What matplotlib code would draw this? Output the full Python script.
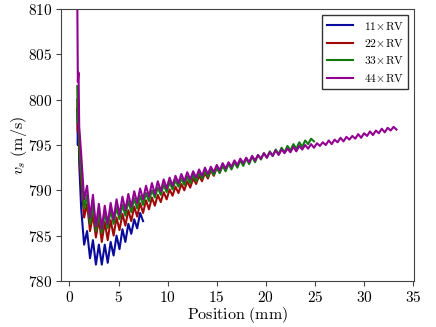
import numpy as np
import matplotlib
matplotlib.use("Agg")
import matplotlib.pyplot as plt
from matplotlib.ticker import FuncFormatter

plt.rcParams['mathtext.fontset'] = 'cm'
plt.rcParams['font.family'] = ['DejaVu Serif']

labels = [r'$11\!\times\!\mathrm{RV}$', r'$22\!\times\!\mathrm{RV}$',
          r'$33\!\times\!\mathrm{RV}$', r'$44\!\times\!\mathrm{RV}$']
colors = ['#0a0a9c', '#a00808', '#107a10', '#920092']

# x positions (mm) of the initial steep drop, then a regular sampling from 1.2 mm
x_head = [0.8, 0.86, 0.93, 1.0, 1.1]
grid_start = 1.2
grid_step = 0.3

v_11_head = [799, 795, 797.5, 793, 790.5]
v_11 = [788, 784, 785.5, 782.5, 784.5, 781.8, 784, 781.8, 784, 782, 784.3,
        782.8, 785, 783.5, 785.7, 784.3, 786.3, 785.2, 786.8, 785.8, 787.5, 786.6]

v_22_head = [800, 796.5, 798.5, 794.5, 792.5]
v_22 = [791, 787, 788.5, 785.5, 787.3, 784.8, 786.8, 784.3, 786.5, 784.5,
        786.7, 785, 787, 785.6, 787.4, 786.1, 787.8, 786.6, 788.2, 787.1,
        788.6, 787.5, 788.9, 787.9, 789.2, 788.3, 789.5, 788.7, 789.8, 789.0,
        790.1, 789.4, 790.4, 789.7, 790.7, 790.0, 791.0, 790.3, 791.3, 790.7,
        791.6, 791.0, 791.9, 791.3, 792.2, 791.6, 792.5, 792.0, 792.8, 792.3]

v_33_head = [801.5, 797.5, 799.5, 795.5, 793.5]
v_33 = [792, 788, 789.5, 786.3, 788.3, 785.5, 787.5, 785.3, 787.5, 785.8,
        787.8, 786.3, 788.1, 786.8, 788.4, 787.2, 788.8, 787.6, 789.1, 788.0,
        789.4, 788.4, 789.7, 788.8, 790.0, 789.2, 790.3, 789.5, 790.6, 789.8,
        790.9, 790.1, 791.1, 790.4, 791.3, 790.6, 791.5, 790.8, 791.7, 791.0,
        791.9, 791.3, 792.1, 791.5, 792.3, 791.7, 792.5, 791.9, 792.7, 792.1,
        792.9, 792.3, 793.1, 792.5, 793.3, 792.7, 793.5, 792.9, 793.7, 793.1,
        793.9, 793.4, 794.1, 793.6, 794.3, 793.8, 794.5, 794.0, 794.7, 794.2,
        794.9, 794.4, 795.1, 794.6, 795.3, 794.8, 795.5, 795.1, 795.7, 795.4]

v_44_head = [812, 802, 803, 797, 795.5]
v_44 = [794, 789, 790.5, 787, 789.5, 786, 788.5, 785.8, 788.3, 786.3,
        788.6, 786.8, 789, 787.3, 789.3, 787.8, 789.6, 788.2, 789.9, 788.6,
        790.2, 789.0, 790.5, 789.3, 790.8, 789.6, 791.0, 789.9, 791.2, 790.2,
        791.4, 790.5, 791.6, 790.8, 791.8, 791.0, 792.0, 791.2, 792.1, 791.4,
        792.3, 791.6, 792.5, 791.8, 792.6, 792.0, 792.8, 792.2, 793.0, 792.4,
        793.1, 792.6, 793.3, 792.8, 793.5, 793.0, 793.6, 793.1, 793.8, 793.3,
        793.9, 793.5, 794.1, 793.6, 794.2, 793.8, 794.4, 793.9, 794.5, 794.1,
        794.6, 794.2, 794.8, 794.3, 794.9, 794.5, 795.0, 794.6, 795.1, 794.7,
        795.2, 794.9, 795.3, 795.0, 795.5, 795.1, 795.6, 795.3, 795.8, 795.4,
        795.9, 795.6, 796.0, 795.7, 796.2, 795.8, 796.3, 796.0, 796.5, 796.1,
        796.6, 796.3, 796.8, 796.4, 796.9, 796.6, 797.0, 796.7]

series = [(v_11_head, v_11), (v_22_head, v_22), (v_33_head, v_33), (v_44_head, v_44)]

fig = plt.figure(figsize=(4.36, 3.27), dpi=100)
ax = fig.add_axes([0.14, 0.141, 0.81, 0.831])

for (head, vals), lab, col in zip(series, labels, colors):
    x = np.concatenate([x_head, grid_start + grid_step * np.arange(len(vals))])
    y = np.concatenate([head, vals])
    ax.plot(x, y, color=col, lw=1.5, label=lab)

ax.set_xlim(-0.85, 35.1)
ax.set_ylim(780, 810)
ax.set_xticks(np.arange(0, 36, 5))
ax.set_yticks(np.arange(780, 811, 5))
fmt = FuncFormatter(lambda v, p: r'$%d$' % v)
ax.xaxis.set_major_formatter(fmt)
ax.yaxis.set_major_formatter(fmt)
ax.tick_params(labelsize=11, length=3.5, color='#444444', pad=3)
for s in ax.spines.values():
    s.set_color('#444444')
ax.set_xlabel(r'$\mathrm{Position\ (mm)}$', fontsize=11.5, labelpad=0)
ax.set_ylabel(r'$v_s\ \mathrm{(m/s)}$', fontsize=11.5, labelpad=-1)
leg = ax.legend(loc='upper right', fancybox=False, edgecolor='#333333',
                fontsize=8.3, handlelength=2.3, handletextpad=0.9,
                labelspacing=0.38, borderpad=0.4, borderaxespad=0.5,
                framealpha=1)
leg.get_frame().set_linewidth(1.0)

fig.savefig('out.png', dpi=100)
